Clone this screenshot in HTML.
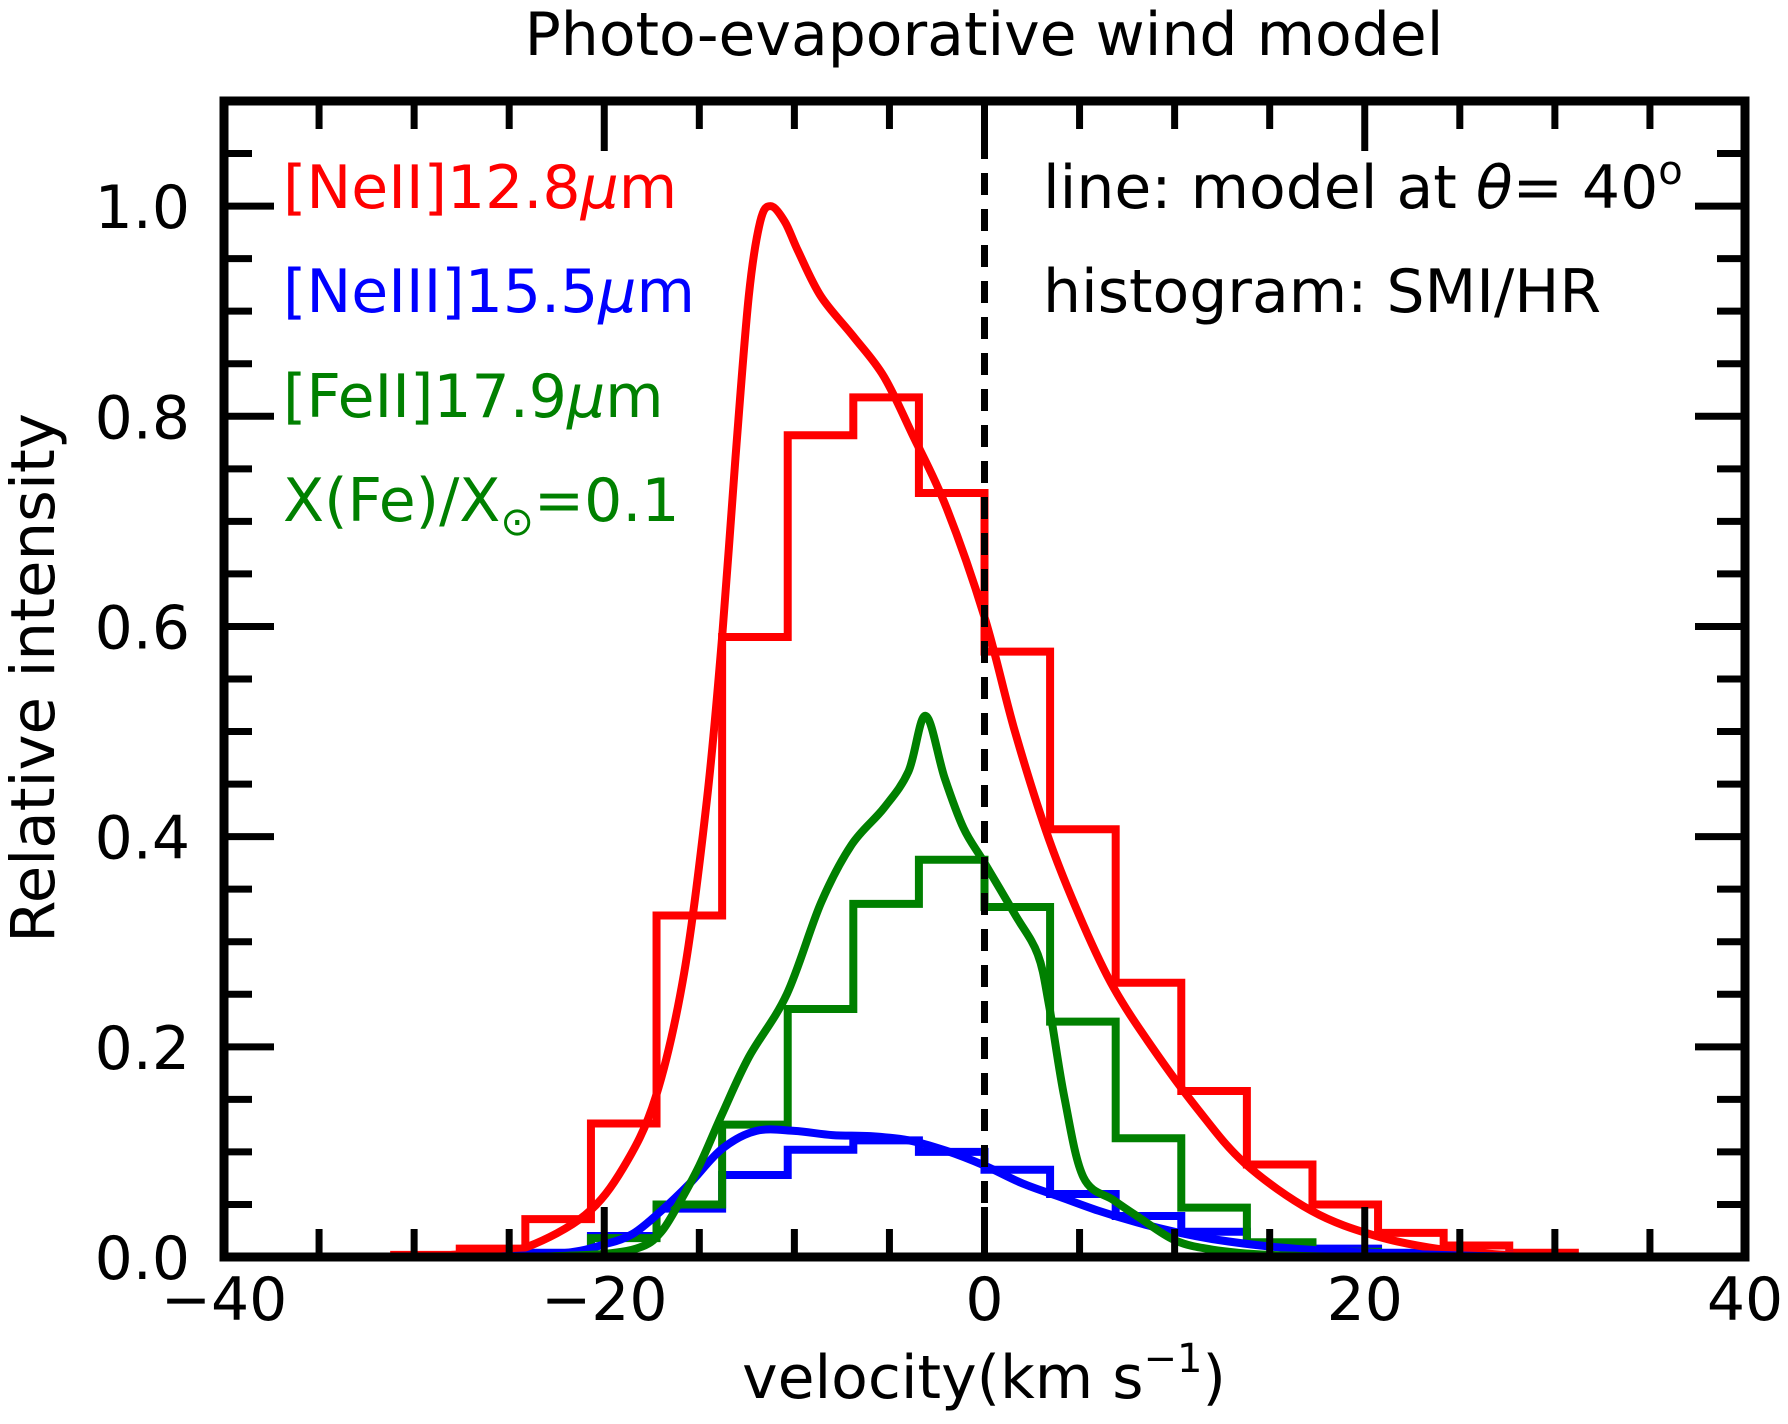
<!DOCTYPE html>
<html><head><meta charset="utf-8"><style>
html,body{margin:0;padding:0;background:#fff;}
svg{display:block;font-family:"DejaVu Sans","Liberation Sans",sans-serif;}
</style></head><body>
<svg id="chart" width="1788" height="1424" viewBox="0 0 1788 1424" xmlns="http://www.w3.org/2000/svg">
<rect width="1788" height="1424" fill="#fff"/>
<text x="984" y="55" font-size="60" text-anchor="middle">Photo-evaporative wind model</text>
<g id="marks"></g>
<g id="axes"></g>
<text x="283" y="208" font-size="60" fill="#ff0000">[NeII]12.8<tspan font-style="italic">μ</tspan>m</text>
<text x="283" y="312" font-size="60" fill="#0000ff">[NeIII]15.5<tspan font-style="italic">μ</tspan>m</text>
<text x="283" y="417" font-size="60" fill="#008000">[FeII]17.9<tspan font-style="italic">μ</tspan>m</text>
<text x="283" y="521" font-size="60" fill="#008000">X(Fe)/X<tspan font-size="40" dy="14">⊙</tspan><tspan dy="-14">=0.1</tspan></text>
<text x="1043" y="208" font-size="60">line: model at <tspan font-style="italic">θ</tspan>= 40<tspan font-size="40" dy="-24">o</tspan></text>
<text x="1043" y="312" font-size="60">histogram: SMI/HR</text>
<text x="984" y="1398" font-size="60" text-anchor="middle">velocity(km s<tspan font-size="40" dy="-26">−1</tspan><tspan dy="26">)</tspan></text>
<text transform="translate(54,678) rotate(-90)" font-size="61" text-anchor="middle">Relative intensity</text>
</svg>
<script>
const binWidth = 3.45;
const redBinStart = -9;
const redHist = [0.002,0.008,0.036,0.127,0.325,0.59,0.782,0.818,0.727,0.576,0.407,0.261,0.158,0.088,0.05,0.023,0.011,0.004];
const greenBinStart = -6;
const greenHist = [0.018,0.05,0.126,0.236,0.336,0.378,0.333,0.224,0.113,0.047,0.014,0.005];
const blueBinStart = -7;
const blueHist = [0.004,0.02,0.046,0.078,0.102,0.111,0.10,0.083,0.06,0.039,0.024,0.013,0.008,0.004,0.002];

const redV = [-36,-30,-28,-26,-24,-21,-19,-17.3,-15.8,-14.6,-13.8,-13.1,-12.4,-11.8,-11.25,-10.5,-9.8,-8.6,-6.9,-5.3,-3.8,-2.0,0,1.6,3.4,5.2,6.8,8.8,11.2,13.7,17.2,20.6,24.1,27.5,31,36];
const redY = [0,0,0.002,0.005,0.01,0.04,0.085,0.152,0.27,0.435,0.59,0.76,0.914,0.985,1.0,0.985,0.957,0.914,0.876,0.838,0.783,0.713,0.609,0.50,0.397,0.316,0.256,0.2,0.141,0.089,0.044,0.02,0.007,0.002,0.0005,0];
const greenV = [-24,-20,-18,-17,-16.1,-15,-13.8,-12.4,-10.4,-8.6,-7,-5.3,-4,-3.1,-2.1,-1.1,0,1.6,2.8,3.4,4.2,5.2,6.8,8.1,10,12,15,20,25];
const greenY = [0,0.003,0.01,0.024,0.05,0.087,0.136,0.19,0.25,0.337,0.392,0.427,0.462,0.515,0.456,0.408,0.375,0.326,0.288,0.239,0.152,0.076,0.054,0.038,0.016,0.007,0.002,0,0];
const blueV = [-26,-22,-20,-18.5,-17,-15.5,-13.8,-12,-10,-8,-6,-4,-2,0,2,4,6,8,10,12,15,18,22,26,30];
const blueY = [0,0.004,0.012,0.022,0.044,0.07,0.103,0.12,0.12,0.116,0.115,0.111,0.101,0.087,0.07,0.057,0.044,0.033,0.024,0.017,0.01,0.006,0.003,0.001,0];

const xTicks = [-40,-20,0,20,40];
const xTickLabels = ["−40","−20","0","20","40"];
const yTicks = [0,0.2,0.4,0.6,0.8,1.0];
const yTickLabels = ["0.0","0.2","0.4","0.6","0.8","1.0"];

const L=224,R=1745,T=101,B=1257,XMIN=-40,XMAX=40,YMIN=0,YMAX=1.1;
const sx = v => L + (v-XMIN)/(XMAX-XMIN)*(R-L);
const sy = v => B - (v-YMIN)/(YMAX-YMIN)*(B-T);
const NS="http://www.w3.org/2000/svg";
const marks=document.getElementById('marks'), axes=document.getElementById('axes');
function mk(tag,attrs,parent){const e=document.createElementNS(NS,tag);for(const k in attrs)e.setAttribute(k,attrs[k]);parent.appendChild(e);return e;}

const defs=mk('defs',{},marks);
const cp=mk('clipPath',{id:'clip'},defs);
mk('rect',{x:L,y:T,width:R-L,height:B-T},cp);
const g=mk('g',{'clip-path':'url(#clip)'},marks);

function hist(vals,start,color,name){
  let d='';
  vals.forEach((v,i)=>{
    const x0=sx((start+i)*binWidth), x1=sx((start+i+1)*binWidth);
    d += (i===0?'M'+x0+','+sy(0)+' L'+x0+','+sy(v):' L'+x0+','+sy(v))+' L'+x1+','+sy(v);
  });
  d+=' L'+sx((start+vals.length)*binWidth)+','+sy(0);
  const p=mk('path',{d:d,fill:'none',stroke:color,'stroke-width':8,'stroke-linejoin':'miter'},g);
  
  
}
function curve(xs,ys,color,name){
  let d='M'+sx(xs[0])+','+sy(ys[0]);
  for(let i=0;i<xs.length-1;i++){
    const p0=[sx(xs[Math.max(i-1,0)]),sy(ys[Math.max(i-1,0)])],p1=[sx(xs[i]),sy(ys[i])],p2=[sx(xs[i+1]),sy(ys[i+1])],p3=[sx(xs[Math.min(i+2,xs.length-1)]),sy(ys[Math.min(i+2,xs.length-1)])];
    const c1=[p1[0]+(p2[0]-p0[0])/6,p1[1]+(p2[1]-p0[1])/6],c2=[p2[0]-(p3[0]-p1[0])/6,p2[1]-(p3[1]-p1[1])/6];
    d+=' C'+c1+' '+c2+' '+p2;
  }
  const p=mk('path',{d:d,fill:'none',stroke:color,'stroke-width':8,'stroke-linejoin':'round'},g);
  
  
}
hist(redHist,redBinStart,'#ff0000','neii-histogram');
hist(blueHist,blueBinStart,'#0000ff','neiii-histogram');
hist(greenHist,greenBinStart,'#008000','feii-histogram');
curve(redV,redY,'#ff0000','neii-model-line');
curve(blueV,blueY,'#0000ff','neiii-model-line');
curve(greenV,greenY,'#008000','feii-model-line');

const zl=mk('line',{x1:sx(0),x2:sx(0),y1:T,y2:B,stroke:'#000','stroke-width':7,'stroke-dasharray':'22,14'},marks);



for(let v=-40;v<=40;v+=5){
  const major = v%20===0, len=major?50:28;
  mk('line',{x1:sx(v),x2:sx(v),y1:B,y2:B-len,stroke:'#000','stroke-width':7},axes);
  mk('line',{x1:sx(v),x2:sx(v),y1:T,y2:T+len,stroke:'#000','stroke-width':7},axes);
}
for(let i=0;i<=22;i++){
  const v=i*0.05, major=i%4===0, len=major?50:28;
  mk('line',{x1:L,x2:L+len,y1:sy(v),y2:sy(v),stroke:'#000','stroke-width':7},axes);
  mk('line',{x1:R,x2:R-len,y1:sy(v),y2:sy(v),stroke:'#000','stroke-width':7},axes);
}
const frame=mk('rect',{x:L,y:T,width:R-L,height:B-T,fill:'none',stroke:'#000','stroke-width':9},axes);


xTicks.forEach((v,i)=>{
  const t=mk('text',{x:sx(v),y:1320,'font-size':60,'text-anchor':'middle'},axes);
  t.textContent=xTickLabels[i];
  
  
});
yTicks.forEach((v,i)=>{
  const t=mk('text',{x:190,y:sy(v)+22,'font-size':60,'text-anchor':'end'},axes);
  t.textContent=yTickLabels[i];
  
  
});
</script>
</body></html>
